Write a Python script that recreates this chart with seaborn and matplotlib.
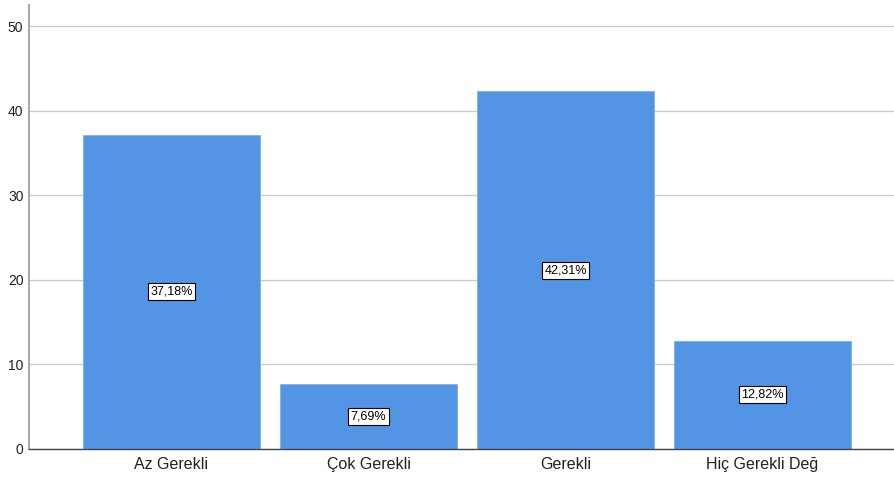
import matplotlib
matplotlib.use("Agg")
import matplotlib.pyplot as plt
import seaborn as sns
import pandas as pd

# Verileri tanimla
kategoriler = ["Az Gerekli", "Çok Gerekli", "Gerekli", "Hiç Gerekli Değ"]
yuzdeler = [37.18, 7.69, 42.31, 12.82]

df = pd.DataFrame({"kategori": kategoriler, "yuzde": yuzdeler})

sns.set_style("white")
plt.rcParams['font.family'] = ['Liberation Sans', 'DejaVu Sans']

fig = plt.figure(figsize=(8.94, 4.8), dpi=100)
ax = fig.add_axes([0.0324, 0.0646, 0.9676, 0.925])

sns.barplot(data=df, x="kategori", y="yuzde", color="#5394E4", saturation=1,
            width=0.9, edgecolor="#7FB0EC", linewidth=0.6, ax=ax, zorder=2)

# Cubuk ortasina yuzde etiketleri
for i, v in enumerate(yuzdeler):
    etiket = f"{v:.2f}%".replace(".", ",")
    ax.text(i, v / 2, etiket, ha="center", va="center", fontsize=9, color="black",
            bbox=dict(boxstyle="square,pad=0.2", facecolor="white", edgecolor="black", linewidth=0.8),
            zorder=3)

ax.set_ylim(0, 52.5)
ax.set_xlim(-0.723, 3.667)
ax.set_yticks([0, 10, 20, 30, 40, 50])
ax.yaxis.grid(True, color="#CCCCCC", linewidth=1, zorder=0)
ax.set_axisbelow(True)
ax.set_xlabel("")
ax.set_ylabel("")

for s in ["top", "right"]:
    ax.spines[s].set_visible(False)
ax.spines["left"].set_color("#AAAAAA")
ax.spines["left"].set_linewidth(1.5)
ax.spines["bottom"].set_color("#444444")
ax.spines["bottom"].set_linewidth(1)

ax.tick_params(axis="x", labelsize=11.5, length=0, pad=6, colors="#222222")
ax.tick_params(axis="y", labelsize=10, length=0, pad=4, colors="#222222")

fig.savefig("out.png", dpi=100)
